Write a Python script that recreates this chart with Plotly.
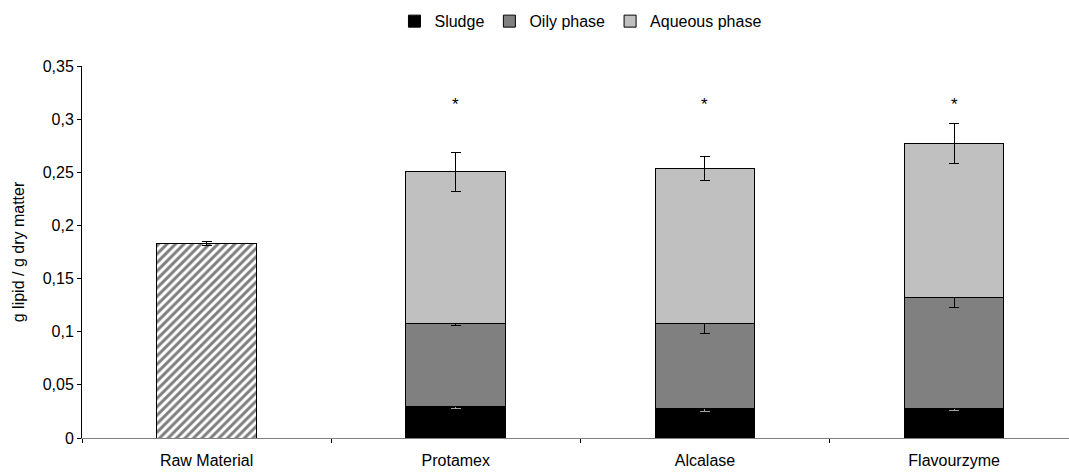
import plotly.graph_objects as go

categories = ["Raw Material", "Protamex", "Alcalase", "Flavourzyme"]

raw_material = [0.183, None, None, None]
raw_material_err = [0.002, 0, 0, 0]

sludge = [None, 0.0294, 0.0282, 0.0282]
sludge_err = [0, 0.002, 0.003, 0.0023]

oily = [None, 0.0788, 0.0800, 0.1042]
oily_err = [0, 0.0025, 0.0095, 0.0100]

aqueous = [None, 0.1423, 0.1452, 0.1448]
aqueous_err = [0, 0.0184, 0.0115, 0.0185]

significance = ["", "*", "*", "*"]
significance_y = [0.314, 0.314, 0.314, 0.314]

FONT = "Liberation Sans, Arial, sans-serif"
outline = dict(color="black", width=1)

fig = go.Figure()

fig.add_trace(go.Bar(
    x=categories, y=raw_material, name="Raw Material", showlegend=False,
    marker=dict(color="white", line=outline,
                pattern=dict(shape="/", fgcolor="black", bgcolor="white", size=6, solidity=0.5)),
    error_y=dict(type="data", array=raw_material_err, color="black", thickness=1, width=5),
))
fig.add_trace(go.Bar(
    x=categories, y=sludge, name="Sludge",
    marker=dict(color="#000000", line=outline),
    error_y=dict(type="data", array=sludge_err, color="#a0a0a0", thickness=1, width=5),
))
fig.add_trace(go.Bar(
    x=categories, y=oily, name="Oily phase",
    marker=dict(color="#808080", line=outline),
    error_y=dict(type="data", array=oily_err, color="black", thickness=1, width=5),
))
fig.add_trace(go.Bar(
    x=categories, y=aqueous, name="Aqueous phase",
    marker=dict(color="#c0c0c0", line=outline),
    error_y=dict(type="data", array=aqueous_err, color="black", thickness=1, width=5),
))

for c, s, yv in zip(categories, significance, significance_y):
    if s:
        fig.add_annotation(x=c, y=yv, text=s, showarrow=False,
                           font=dict(family=FONT, size=17, color="black"))

fig.update_layout(
    width=1069, height=472,
    margin=dict(l=82, r=0, t=66, b=34),
    paper_bgcolor="white", plot_bgcolor="white",
    barmode="stack", bargap=0.6,
    separators=", ",
    font=dict(family=FONT, size=16, color="black"),
    legend=dict(orientation="h", xref="container", yref="container",
                x=0.543, xanchor="center", y=0.955, yanchor="middle",
                font=dict(family=FONT, size=16, color="black"),
                itemwidth=30, traceorder="normal"),
    showlegend=True,
)

fig.update_xaxes(
    type="category", range=[-0.5, 3.461],
    showline=True, linecolor="#808080", linewidth=1,
    ticks="outside", tickson="boundaries", ticklen=4, tickcolor="black",
    ticklabelstandoff=8,
    tickfont=dict(family=FONT, size=16, color="black"),
    showgrid=False, zeroline=False,
)
fig.update_yaxes(
    range=[0, 0.35], dtick=0.05, tick0=0,
    showline=True, linecolor="black", linewidth=1,
    ticks="outside", ticklen=4, tickcolor="black",
    tickfont=dict(family=FONT, size=16, color="black"),
    showgrid=False, zeroline=False,
    title=dict(text="g lipid / g dry matter", font=dict(family=FONT, size=16, color="black"), standoff=14),
)

fig.write_html("out.html")
